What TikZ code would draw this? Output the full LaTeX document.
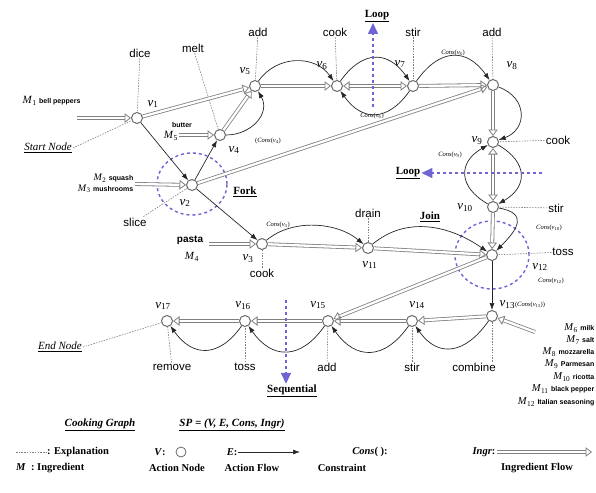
\documentclass[tikz,border=0pt]{standalone}
\usepackage{fontspec}
\setmainfont{Liberation Serif}
\setsansfont{Liberation Sans}
\usetikzlibrary{arrows.meta,calc}
\definecolor{loopblue}{RGB}{110,100,210}
\definecolor{lineg}{RGB}{105,105,105}
\newcommand\vlab[1]{\textit{v}\textsubscript{#1}}
\newcommand\mlab[1]{\textit{M}\textsubscript{#1}}
\newcommand\conslab[1]{\textit{Cons}(\textit{v}\textsubscript{#1})}
\begin{document}
\begin{tikzpicture}[x=1pt,y=1pt,
  act/.style={circle, draw=lineg, fill=white, line width=1pt, minimum size=11pt, inner sep=0pt},
  word/.style={font=\sffamily\fontsize{11.5}{12}\selectfont, inner sep=1pt},
  vl/.style={font=\fontsize{13}{13}\selectfont, inner sep=0.5pt},
  cl/.style={font=\fontsize{6.5}{7}\selectfont, inner sep=0.5pt},
  ing/.style={font=\sffamily\bfseries\fontsize{7}{8}\selectfont, inner sep=0.5pt},
  mlabel/.style={font=\fontsize{11}{11}\selectfont, inner sep=0.5pt},
  concept/.style={font=\bfseries\fontsize{11}{12}\selectfont, inner sep=1pt},
  endlab/.style={font=\itshape\fontsize{11}{12}\selectfont, inner sep=1pt},
  leg/.style={font=\bfseries\fontsize{10.5}{11}\selectfont, inner sep=1pt},
  ingr/.style={draw=lineg!85, line width=0.8pt, double=white, double distance=2.3pt, -{Triangle[open,length=6.5pt,width=9.5pt]}},
  ingrtwo/.style={draw=lineg!85, line width=0.8pt, double=white, double distance=2.3pt, {Triangle[open,length=6.5pt,width=9.5pt]}-{Triangle[open,length=6.5pt,width=9.5pt]}},
  flow/.style={draw=black!85, line width=0.7pt, -{Latex[length=7pt,width=5pt]}},
  expl/.style={draw=gray, line width=0.6pt, dash pattern=on 1.5pt off 1.2pt},
  bluedash/.style={draw=loopblue, line width=1.4pt, dash pattern=on 3pt off 3pt},
  bluearrow/.style={draw=loopblue, line width=1.4pt, dash pattern=on 3pt off 3pt, -{Triangle[length=11pt,width=10pt]}},
]
\useasboundingbox (0,0) rectangle (596,-492);

% blue fork / join regions
\draw[bluedash] (192,-184) ellipse [x radius=35, y radius=31];
\draw[bluedash] (492,-255) ellipse [x radius=37, y radius=34];

% action nodes
\node[act] (v1) at (137,-118) {};
\node[act] (v2) at (192,-185) {};
\node[act] (v3) at (262,-244) {};
\node[act] (v4) at (220,-135) {};
\node[act] (v5) at (255,-86) {};
\node[act] (v6) at (337,-86) {};
\node[act] (v7) at (413,-86) {};
\node[act] (v8) at (493,-85) {};
\node[act] (v9) at (493,-142) {};
\node[act] (v10) at (493,-207) {};
\node[act] (v11) at (368,-248) {};
\node[act] (v12) at (492,-255) {};
\node[act] (v13) at (492,-316) {};
\node[act] (v14) at (412,-321) {};
\node[act] (v15) at (328,-321) {};
\node[act] (v16) at (245,-321) {};
\node[act] (v17) at (167,-321) {};

% node labels
\node[vl] at (153,-104) {\vlab{1}};
\node[vl] at (185,-203) {\vlab{2}};
\node[vl] at (248,-259) {\vlab{3}};
\node[vl] at (234,-150) {\vlab{4}};
\node[vl] at (245,-71) {\vlab{5}};
\node[vl] at (322,-66) {\vlab{6}};
\node[vl] at (400,-64) {\vlab{7}};
\node[vl] at (512,-66) {\vlab{8}};
\node[vl] at (477,-141) {\vlab{9}};
\node[vl] at (465,-208) {\vlab{10}};
\node[vl] at (370,-265) {\vlab{11}};
\node[vl] at (540,-267) {\vlab{12}};
\node[vl,anchor=west] at (499,-305) {\vlab{13}{\fontsize{6.5}{7}\selectfont(\conslab{13})}};
\node[vl] at (417,-305) {\vlab{14}};
\node[vl] at (318,-305) {\vlab{15}};
\node[vl] at (243,-306) {\vlab{16}};
\node[vl] at (163,-306) {\vlab{17}};

% constraint labels
\node[cl] at (268,-141) {(\conslab{4}};
\node[cl] at (372,-116) {\conslab{6}};
\node[cl] at (453,-53) {\conslab{8}};
\node[cl] at (450,-155) {\conslab{9}};
\node[cl] at (278,-225) {\conslab{3}};
\node[cl] at (549,-228) {\conslab{10}};
\node[cl] at (551,-281) {\conslab{12}};

% action words
\node[word] (wdice) at (140,-53) {dice};
\node[word] (wmelt) at (193,-48) {melt};
\node[word] (wadd5) at (258,-32) {add};
\node[word] (wcook6) at (335,-32) {cook};
\node[word] (wstir7) at (413,-32) {stir};
\node[word] (wadd8) at (492,-32) {add};
\node[word] (wcook9) at (558,-140) {cook};
\node[word] (wstir10) at (556,-208) {stir};
\node[word] (wtoss12) at (563,-252) {toss};
\node[word] (wdrain) at (368,-213) {drain};
\node[word] (wcook3) at (262,-273) {cook};
\node[word] (wslice) at (135,-222) {slice};
\node[word] (wremove) at (172,-367) {remove};
\node[word] (wtoss16) at (245,-367) {toss};
\node[word] (wadd15) at (327,-367) {add};
\node[word] (wstir14) at (412,-367) {stir};
\node[word] (wcombine) at (474,-367) {combine};

\draw[expl] (wdice) -- (v1);
\draw[expl] (wmelt) -- (v4);
\draw[expl] (wadd5) -- (v5);
\draw[expl] (wcook6) -- (v6);
\draw[expl] (wstir7) -- (v7);
\draw[expl] (wadd8) -- (v8);
\draw[expl] (wcook9) -- (v9);
\draw[expl] (wstir10) -- (v10);
\draw[expl] (wtoss12) -- (v12);
\draw[expl] (wdrain) -- (v11);
\draw[expl] (wcook3) -- (v3);
\draw[expl] (wslice) -- (v2);
\draw[expl] (wremove) -- (v17);
\draw[expl] (wtoss16) -- (v16);
\draw[expl] (wadd15) -- (v15);
\draw[expl] (wstir14) -- (v14);
\draw[expl] (wcombine.north -| v13) -- (v13);

% concept labels
\node[endlab] (start) at (48,-148) {\underline{Start Node}};
\node[endlab] (endn) at (60,-347) {\underline{End Node}};
\draw[expl] (start.east) -- (v1);
\draw[expl] (endn.east) -- (v17);
\node[concept] at (245,-192) {\underline{Fork}};
\node[concept] at (430,-217) {\underline{Join}};
\node[concept] (loop1) at (377,-16) {\underline{Loop}};
\node[concept] (loop2) at (408,-173) {\underline{Loop}};
\node[concept] (seq) at (292,-391) {\underline{Sequential}};

% ingredients
\node[anchor=west, inner sep=0.5pt] (m1) at (22,-101) {{\fontsize{11}{11}\selectfont\mlab{1}} {\sffamily\bfseries\fontsize{7}{8}\selectfont bell peppers}};
\coordinate (m1s) at (77,-118);
\node[ing] (butter) at (182,-125) {butter};
\node[mlabel] (m5) at (171,-136) {\mlab{5}};
\coordinate (m5s) at (179,-135);
\node[anchor=east, inner sep=0.5pt] at (134,-178) {{\fontsize{10}{10}\selectfont\mlab{2}} {\sffamily\bfseries\fontsize{7}{8}\selectfont squash}};
\node[anchor=east, inner sep=0.5pt] at (134,-189) {{\fontsize{10}{10}\selectfont\mlab{3}} {\sffamily\bfseries\fontsize{7}{8}\selectfont mushrooms}};
\coordinate (m23s) at (135,-184);
\node[font=\sffamily\bfseries\fontsize{10}{10}\selectfont, inner sep=0.5pt] (pasta) at (190,-240) {pasta};
\node[mlabel] at (192,-257) {\mlab{4}};
\coordinate (m4s) at (209,-244);
\coordinate (m13s) at (535,-332);
\foreach \y/\m/\t in {328/6/milk, 340/7/salt, 352/8/mozzarella, 364/9/Parmesan, 377/10/ricotta, 389/11/black pepper, 402/12/Italian seasoning}
  \node[anchor=east, inner sep=0.5pt] at (595,-\y) {{\fontsize{10.5}{11}\selectfont\mlab{\m}} {\sffamily\bfseries\fontsize{7}{8}\selectfont \t}};

% ingredient flows
\draw[ingr] (m1s) -- (v1);
\draw[ingr] (v1) -- (v5);
\draw[ingr] (m5s) -- (v4);
\draw[ingr] (v4) -- (v5);
\draw[ingr] (m23s) -- (v2);
\draw[ingr] (v2) -- (v8);
\draw[ingr] (v5) -- (v6);
\draw[ingrtwo] (v6) -- (v7);
\draw[ingr] (v7) -- (v8);
\draw[ingr] (v8) -- (v9);
\draw[ingrtwo] (v9) -- (v10);
\draw[ingr] (v10) -- (v12);
\draw[ingr] (m4s) -- (v3);
\draw[ingr] (v3) -- (v11);
\draw[ingr] (v11) -- (v12);
\draw[ingr] (v12) -- (v15);
\draw[ingr] (m13s) -- (v13);
\draw[ingr] (v13) -- (v14);
\draw[ingr] (v14) -- (v15);
\draw[ingr] (v15) -- (v16);
\draw[ingr] (v16) -- (v17);

% action flows
\draw[flow] (v1) -- (v2);
\draw[flow] (v2) -- (v3);
\draw[flow] (v2) -- (v4);
\draw[flow] (v4) to[out=0,in=-60,looseness=1.2] (v5);
\draw[flow] (v5) to[out=55,in=125,looseness=1.1] (v6);
\draw[flow] (v6) to[out=55,in=125,looseness=1.4] (v7);
\draw[flow] (v7) to[out=-125,in=-55,looseness=1.4] (v6);
\draw[flow] (v7) to[out=55,in=125,looseness=1.4] (v8);
\draw[flow] (v8) to[out=-20,in=20,looseness=1.5] (v9);
\draw[flow] (v9) to[out=-30,in=30,looseness=1.5] (v10);
\draw[flow] (v10) to[out=150,in=-150,looseness=1.5] (v9);
\draw[flow] (v10) to[out=-10,in=45,looseness=1.8] (v12);
\draw[flow] (v3) to[out=40,in=140,looseness=0.9] (v11);
\draw[flow] (v11) to[out=40,in=145] (v12);
\draw[flow] (v12) -- (v13);
\draw[flow] (v13) to[out=-125,in=-55,looseness=1.4] (v14);
\draw[flow] (v14) to[out=-125,in=-55,looseness=1.4] (v15);
\draw[flow] (v15) to[out=-125,in=-55,looseness=1.4] (v16);
\draw[flow] (v16) to[out=-125,in=-55,looseness=1.4] (v17);

% blue pattern arrows
\coordinate (la1) at (373,-107);
\draw[bluearrow] (la1) -- (loop1.south -| la1);
\coordinate (la2) at (542,-173);
\draw[bluearrow] (la2) -- (loop2.east);
\coordinate (sq1) at (286,-300);
\draw[bluearrow] (sq1) -- (seq.north -| sq1);

% legend
\node[font=\bfseries\itshape\fontsize{11}{12}\selectfont] at (100,-425) {\underline{Cooking Graph}};
\node[font=\bfseries\itshape\fontsize{11}{12}\selectfont] at (232,-425) {\underline{\textit{SP} = (\textit{V}, \textit{E}, \textit{Cons}, \textit{Ingr})}};
\coordinate (lg1) at (16,-452);
\node[leg, anchor=west] (lexp) at (46,-452) {: Explanation};
\draw[expl] (lg1) -- (lexp.west);
\node[leg] (lv) at (160,-452) {\textit{V}:};
\node[act, minimum size=10pt, line width=0.8pt] (lvc) at (181,-452) {};
\node[leg] (le) at (232,-452) {\textit{E}:};
\coordinate (lee) at (300,-452);
\draw[flow] (le.east) -- (lee);
\node[leg] at (370,-452) {\textit{Cons}( ):};
\node[leg] (li) at (484,-452) {\textit{Ingr}:};
\coordinate (lie) at (592,-452);
\draw[ingr] (li.east) -- (lie);
\node[leg, anchor=west] at (15,-468) {\textit{M}~~: Ingredient};
\node[leg] at (177,-468) {Action Node};
\node[leg] at (252,-468) {Action Flow};
\node[leg] at (342,-468) {Constraint};
\node[leg] at (537,-468) {Ingredient Flow};
\end{tikzpicture}
\end{document}
